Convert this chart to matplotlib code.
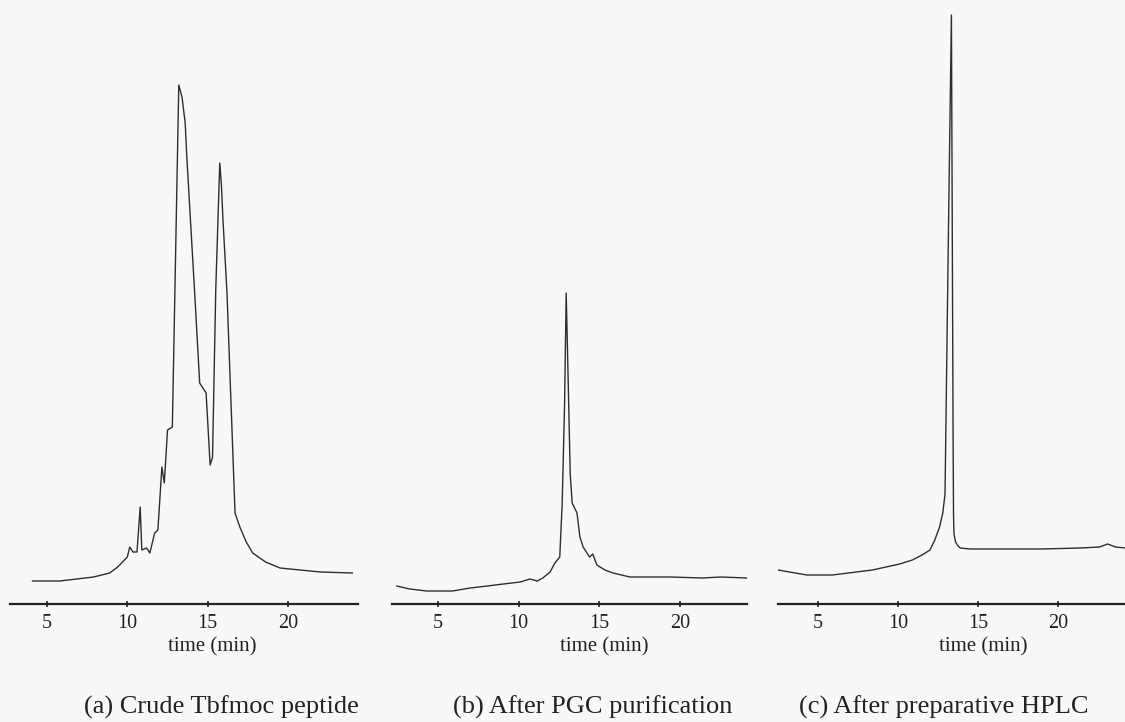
import matplotlib
matplotlib.use("Agg")
import matplotlib.pyplot as plt
from matplotlib.transforms import blended_transform_factory

# chromatogram traces (time in min, signal in arbitrary units)
a_time = [4.1, 5.8, 7.9, 8.9, 9.4, 10.0, 10.15, 10.35, 10.6, 10.8, 10.9, 11.2, 11.4, 11.7, 11.9,
          12.15, 12.3, 12.5, 12.8, 13.2, 13.4, 13.6, 13.7, 14.2, 14.5, 14.7, 14.9, 15.15, 15.3,
          15.5, 15.75, 15.85, 15.95, 16.2, 16.7, 17.0, 17.4, 17.8, 18.6, 19.5, 22.0, 24.0]
a_abs = [23, 23, 27, 31, 37, 47, 57, 52, 52, 97, 54, 56, 51, 71, 74,
         137, 121, 174, 177, 519, 507, 481, 447, 308, 221, 216, 211, 139, 147,
         314, 441, 420, 384, 311, 91, 77, 62, 51, 42, 36, 32, 31]

b_time = [2.45, 3.25, 4.3, 5.9, 7.0, 8.05, 9.05, 10.1, 10.7, 11.15, 11.5, 11.95, 12.25, 12.55,
          12.7, 12.85, 12.95, 13.05, 13.2, 13.32, 13.62, 13.8, 14.0, 14.4, 14.6, 14.85, 15.35,
          15.85, 16.9, 19.4, 21.4, 22.5, 24.15]
b_abs = [18, 15, 13, 13, 16, 18, 20, 22, 25, 23, 26, 32, 41, 47,
         100, 200, 311, 240, 130, 101, 91, 67, 57, 47, 50, 39, 34,
         31, 27, 27, 26, 27, 26]

c_time = [2.5, 4.3, 5.9, 8.4, 10.1, 10.9, 11.5, 12.0, 12.3, 12.6, 12.8, 12.94, 13.0, 13.16,
          13.34, 13.44, 13.47, 13.5, 13.6, 13.75, 13.9, 14.5, 16.4, 18.9, 21.4, 22.6, 23.1,
          23.6, 24.2]
c_abs = [34, 29, 29, 34, 40, 44, 49, 54, 64, 77, 91, 110, 184, 380,
         589, 184, 90, 70, 62, 58, 56, 55, 55, 55, 56, 57, 60,
         57, 56]

ticks = [5, 10, 15, 20]
captions = ["(a) Crude Tbfmoc peptide", "(b) After PGC purification", "(c) After preparative HPLC"]

plt.rcParams['font.family'] = ['Liberation Serif', 'DejaVu Serif']

W, H = 1125, 722
fig = plt.figure(figsize=(W / 100, H / 100), dpi=100)
fig.patch.set_facecolor("#f8f8f8")

# (left px, right px, xlim, caption centre px)
panels = [
    (10, 358, (2.70, 24.35), 221, a_time, a_abs),
    (392, 747, (2.15, 24.16), 593, b_time, b_abs),
    (778, 1125, (2.50, 24.19), 944, c_time, c_abs),
]
axis_y = 604

for i, (x0, x1, xl, capx, t, s) in enumerate(panels):
    ax = fig.add_axes([x0 / W, (H - axis_y) / H, (x1 - x0) / W, axis_y / H])
    ax.set_facecolor("none")
    ax.plot(t, s, color="#2e2e2e", lw=1.0)
    ax.set_xlim(*xl)
    ax.set_ylim(0, axis_y)
    for sp in ["top", "left", "right"]:
        ax.spines[sp].set_visible(False)
    ax.spines["bottom"].set_linewidth(1.6)
    ax.spines["bottom"].set_color("#222222")
    ax.set_yticks([])
    ax.set_xticks(ticks)
    ax.tick_params(axis="x", direction="inout", length=5, width=1.2, color="#222222",
                   labelsize=14.5, pad=5, labelcolor="#222222")
    tr = blended_transform_factory(ax.transData, fig.transFigure)
    ax.text(15.3, (H - 647) / H, "time (min)", transform=tr, ha="center", va="center",
            fontsize=15, color="#222222")
    fig.text(capx / W, (H - 707) / H, captions[i], ha="center", va="center",
             fontsize=19, color="#222222")

fig.savefig("out.png", dpi=100, facecolor=fig.get_facecolor())
